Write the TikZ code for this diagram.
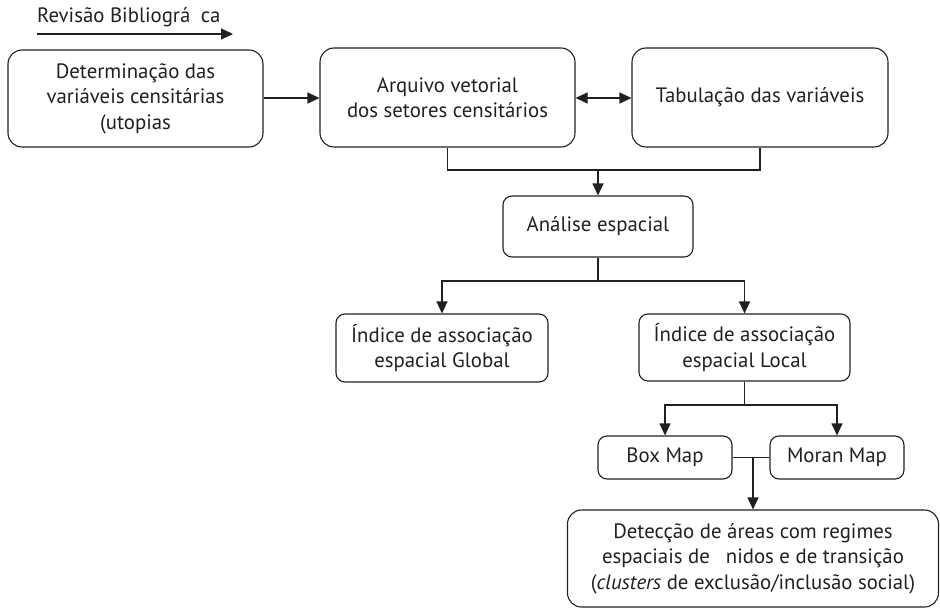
\documentclass[tikz,border=0pt]{standalone}
\usepackage{fontspec}
\setmainfont{PT Sans}
\usetikzlibrary{arrows.meta}
\definecolor{ink}{HTML}{231F20}
\begin{document}
\begin{tikzpicture}[x=1pt,y=-1pt,
  box/.style={draw=ink,line width=1.1pt,rounded corners=14pt,align=center,inner sep=0pt,text=ink,font=\fontsize{20.8}{25.5}\selectfont},
  sbox/.style={box,rounded corners=9pt},
  conn/.style={draw=ink,line width=1.1pt},
  arr/.style={conn,-{Triangle[length=12pt,width=11pt]}},
  darr/.style={conn,{Triangle[length=12pt,width=11pt]}-{Triangle[length=12pt,width=11pt]}}]
\useasboundingbox (0,0) rectangle (940,610);
% top label
\node[text=ink,font=\fontsize{20.8}{23}\selectfont,anchor=west,inner sep=0pt] (rev) at (37,17) {Revisão Bibliográ\hspace{0.5em}ca};
\coordinate (ra) at (37,34);
\coordinate (rb) at (233,34);
\draw[arr] (ra) -- (rb);
% boxes
\node[box,minimum width=255pt,minimum height=97pt] (det) at (135.5,98.5) {Determinação das\\variáveis censitárias\\(utopias};
\node[box,minimum width=255pt,minimum height=99pt] (arq) at (447.5,97.5) {Arquivo vetorial\\dos setores censitários};
\node[box,minimum width=256pt,minimum height=99pt] (tab) at (760,97.5) {Tabulação das variáveis};
\node[sbox,minimum width=190pt,minimum height=61pt] (ana) at (598,226.5) {Análise espacial};
\node[sbox,minimum width=212pt,minimum height=68pt] (glo) at (442,348) {Índice de associação\\espacial Global};
\node[sbox,minimum width=211pt,minimum height=67pt] (loc) at (744.5,347.5) {Índice de associação\\espacial Local};
\node[sbox,minimum width=134pt,minimum height=43pt] (box) at (665,457.5) {Box Map};
\node[sbox,minimum width=134pt,minimum height=43pt] (mor) at (837,457.5) {Moran Map};
\node[box,minimum width=371pt,minimum height=97pt] (dtc) at (753,558.5) {Detecção de áreas com regimes\\espaciais de\hspace{0.5em} nidos e de transição\\(\textit{clusters} de exclusão/inclusão social)};
% connectors
\draw[arr] (det.east |- 0,98) -- (arq.west |- 0,98);
\draw[darr] (arq.east |- 0,98) -- (tab.west |- 0,98);
\coordinate (j1) at (598,170);
\draw[conn] (arq.south) |- (j1) -| (tab.south);
\draw[arr] (j1) -- (ana.north);
\coordinate (j2) at (598,281);
\draw[conn] (ana.south) -- (j2);
\draw[arr] (j2) -| (glo.north);
\draw[arr] (j2) -| (loc.north);
\coordinate (j3) at (744.5,405);
\draw[conn] (loc.south) -- (j3);
\draw[arr] (j3) -| (box.north);
\draw[arr] (j3) -| (mor.north);
\coordinate (j4) at (753,457.5);
\draw[conn] (box.east) -- (mor.west);
\draw[arr] (j4) -- (dtc.north);
\end{tikzpicture}
\end{document}
